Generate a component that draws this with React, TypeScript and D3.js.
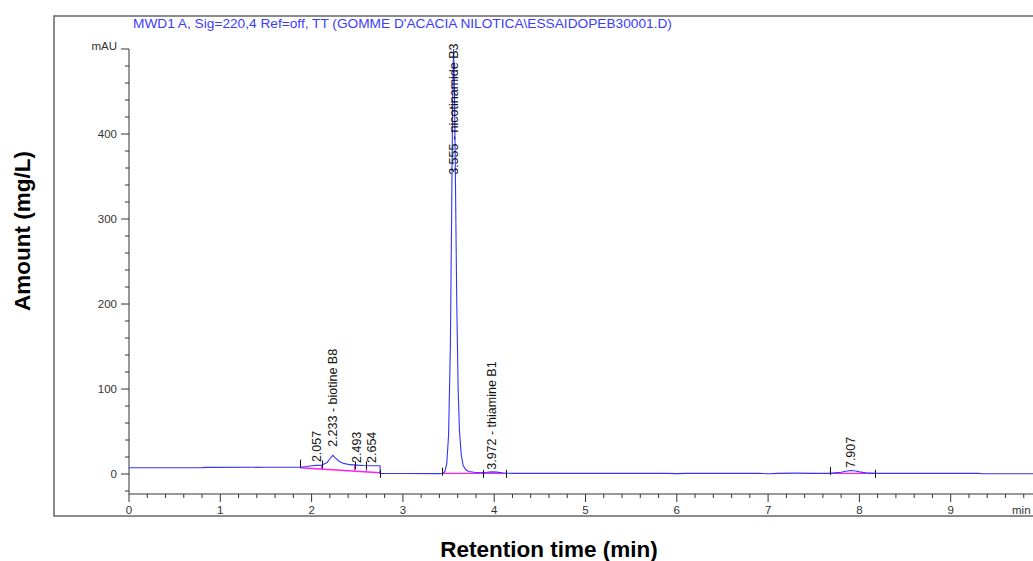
import React from 'react';
import * as d3 from 'd3';

// chromatogram trace, [time (min), signal (mAU)]
const traceTimes = [
  0, 0.8, 0.85, 1.5, 1.873, 1.95, 2.0, 2.057, 2.11, 2.17, 2.2, 2.233, 2.26, 2.3, 2.35, 2.42, 2.493, 2.57, 2.654, 2.75,
  2.75, 3.0, 3.4, 3.44, 3.46, 3.48, 3.5, 3.52, 3.535, 3.545, 3.555, 3.565, 3.575, 3.59, 3.605, 3.62, 3.64, 3.66, 3.69,
  3.72, 3.78, 3.85, 3.92, 3.972, 4.03, 4.1, 4.2, 5.0, 5.9, 6.0, 6.1, 6.9, 7.0, 7.1, 7.3, 7.5, 7.68, 7.8, 7.85, 7.907,
  7.96, 8.0, 8.1, 8.17, 9.0, 9.3, 9.35, 10.2,
];
const traceValues = [
  7.4, 7.5, 7.8, 7.9, 8.0, 8.8, 9.8, 10.2, 10.4, 13.5, 18, 22, 19, 15, 12.5, 11, 10.5, 10, 9.8, 9.8,
  0.8, 0.6, 0.5, 1.0, 3, 12, 45, 150, 320, 440, 500, 450, 350, 200, 100, 50, 22, 10, 5,
  3, 2, 1.5, 2.0, 2.5, 2.2, 1.2, 0.8, 0.8, 0.8, 0.5, 0.8, 0.8, 0.4, 0.8, 1.0, 0.8, 0.8, 2.0, 3.3, 4.2,
  3.5, 2.5, 1.0, 0.8, 0.8, 0.8, 0.4, 0.4,
];

// integration baselines (magenta), [t0, v0, t1, v1]
const baselineStart = [1.873, 3.43, 7.68];
const baselineStartValue = [7.4, 0.8, 0.8];
const baselineEnd = [2.75, 4.13, 8.17];
const baselineEndValue = [1.5, 0.8, 0.8];

// drop lines between merged peaks
const dropTimes = [2.11, 2.47, 2.6];

// peak start/stop events (black ticks): time and signal level at the tick
const eventTimes = [1.873, 2.11, 2.47, 2.6, 2.75, 3.43, 3.88, 4.13, 7.68, 8.17];
const eventLevels = [11, 10, 9, 9, -1, 1.5, -1, -1, 2.5, -1];

// peak annotations
const peakTimes = [2.057, 2.233, 2.493, 2.654, 3.555, 3.972, 7.907];
const peakLabels = ['2.057', '2.233 - biotine B8', '2.493', '2.654', '3.555 - nicotinamide B3', '3.972 - thiamine B1', '7.907'];
const labelLevel = [14, 32, 13, 13, 352, 5, 7];

const xTicks = [0, 1, 2, 3, 4, 5, 6, 7, 8, 9];
const yTicks = [0, 100, 200, 300, 400];

const title = "MWD1 A, Sig=220,4 Ref=off, TT (GOMME D'ACACIA NILOTICA\\ESSAIDOPEB30001.D)";

const FONT = '"Liberation Sans", Arial, sans-serif';

export default function App() {
  const x = d3.scaleLinear().domain([0, 10]).range([129, 1042]);
  const y = d3.scaleLinear().domain([-23.5, 500]).range([494, 49]);

  const trace = traceTimes.map((t, i) => [t, traceValues[i]] as [number, number]);
  const line = d3.line<[number, number]>().x(d => x(d[0])).y(d => y(d[1]));

  const baseAt = (t: number) => {
    const k = baselineStart.findIndex((s, i) => t >= s && t <= baselineEnd[i]);
    const f = (t - baselineStart[k]) / (baselineEnd[k] - baselineStart[k]);
    return baselineStartValue[k] + f * (baselineEndValue[k] - baselineStartValue[k]);
  };
  const signalAt = (t: number) => {
    const i = d3.bisectLeft(traceTimes, t);
    const t0 = traceTimes[i - 1], t1 = traceTimes[i];
    const v0 = traceValues[i - 1], v1 = traceValues[i];
    return v0 + ((t - t0) / (t1 - t0)) * (v1 - v0);
  };

  const minorX = d3.range(0, 50).map(i => i * 0.2).filter(t => !xTicks.some(m => Math.abs(m - t) < 1e-6));
  const minorY = d3.range(-20, 500, 20).filter(v => v % 100 !== 0);

  return (
    <svg width={1033} height={561} style={{ position: 'absolute', left: 0, top: 0, background: '#fff' }} fontFamily={FONT}>
      <rect x={54} y={16} width={1100} height={500} fill="none" stroke="#666" strokeWidth={1.5} />

      <text x={133} y={28} fontSize={13.7} fill="#3b3bff">{title}</text>

      {/* y axis */}
      <line x1={129} x2={129} y1={y(500)} y2={y(-23.5)} stroke="#333" />
      {yTicks.map(v => (
        <g key={v}>
          <line x1={121} x2={129} y1={y(v)} y2={y(v)} stroke="#333" />
          <text x={117} y={y(v) + 4} fontSize={11.5} textAnchor="end" fill="#333">{v}</text>
        </g>
      ))}
      <line x1={121} x2={129} y1={y(500)} y2={y(500)} stroke="#333" />
      <text x={117} y={y(500) + 1} fontSize={11.5} textAnchor="end" fill="#333">mAU</text>
      {minorY.map(v => (
        <line key={v} x1={125} x2={129} y1={y(v)} y2={y(v)} stroke="#333" />
      ))}

      {/* x axis */}
      <line x1={129} x2={1040} y1={494} y2={494} stroke="#333" />
      {xTicks.map(t => (
        <g key={t}>
          <line x1={x(t)} x2={x(t)} y1={494} y2={502} stroke="#333" />
          <text x={x(t)} y={514} fontSize={11.5} textAnchor="middle" fill="#333">{t}</text>
        </g>
      ))}
      {minorX.map(t => (
        <line key={t} x1={x(t)} x2={x(t)} y1={494} y2={498} stroke="#333" />
      ))}
      <text x={1012} y={514} fontSize={11.5} fill="#333">min</text>

      {/* integration baselines */}
      {baselineStart.map((t, i) => (
        <line key={t} x1={x(t)} x2={x(baselineEnd[i])} y1={y(baselineStartValue[i])} y2={y(baselineEndValue[i])}
          stroke="#ff22ee" strokeWidth={1.4} />
      ))}
      {dropTimes.map(t => (
        <line key={t} x1={x(t)} x2={x(t)} y1={y(baseAt(t))} y2={y(signalAt(t))} stroke="#ff22ee" />
      ))}

      {/* trace */}
      <path d={line(trace) || ''} fill="none" stroke="#3434ff" strokeWidth={1.1} />

      {/* peak events */}
      {eventTimes.map((t, i) => (
        <line key={t} x1={Math.round(x(t)) + 0.5} x2={Math.round(x(t)) + 0.5} y1={y(eventLevels[i]) - 5} y2={y(eventLevels[i]) + 3}
          stroke="#111" />
      ))}

      {/* peak labels */}
      {peakTimes.map((t, i) => (
        <text key={t} transform={`translate(${x(t) + 4.5},${y(labelLevel[i])}) rotate(-90)`} fontSize={12.5} fill="#111">
          {peakLabels[i]}
        </text>
      ))}

      {/* axis titles */}
      <text x={549} y={557} fontSize={22.5} fontWeight="bold" textAnchor="middle" fill="#000">Retention time (min)</text>
      <text transform="translate(30,231) rotate(-90)" fontSize={22.5} fontWeight="bold" textAnchor="middle" fill="#000">
        Amount (mg/L)
      </text>
    </svg>
  );
}
